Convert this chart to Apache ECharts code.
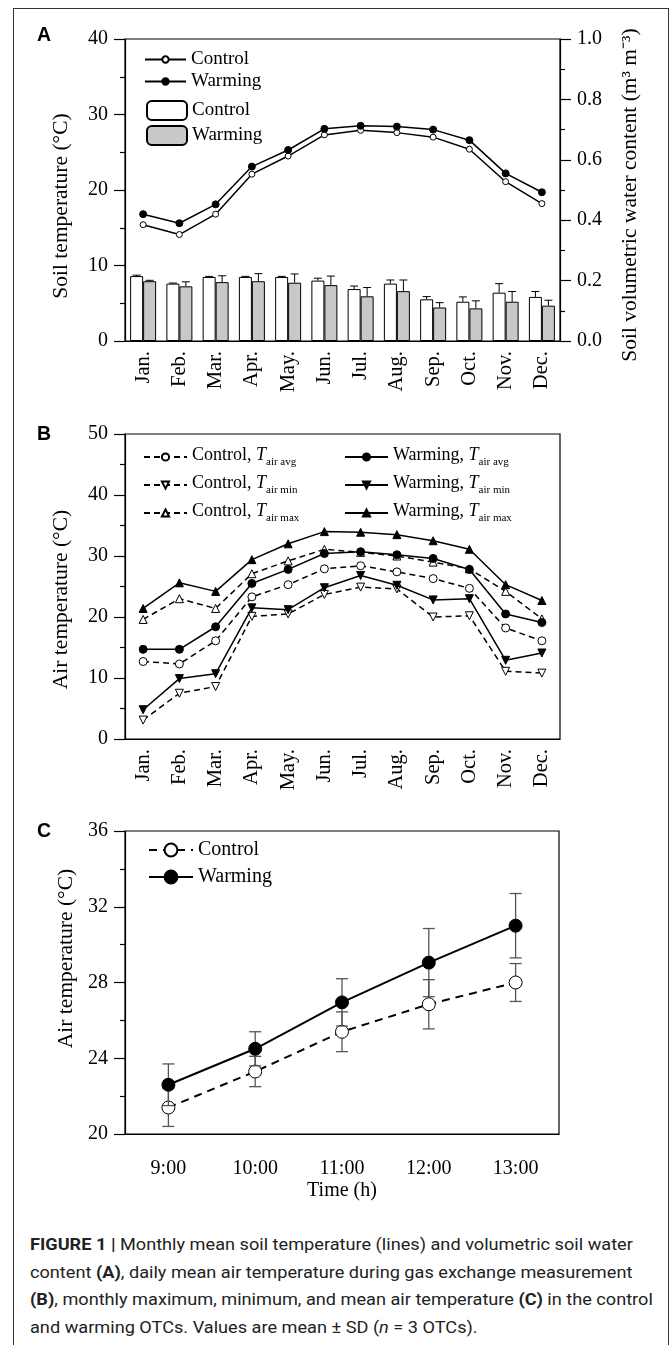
<!DOCTYPE html>
<html>
<head>
<meta charset="utf-8">
<script src="https://cdn.jsdelivr.net/npm/echarts@6/dist/echarts.min.js"></script>
<style>
  html, body { margin: 0; padding: 0; background: #fff; }
  #wrap { position: relative; width: 672px; height: 1345px; overflow: hidden; }
  #frame { position: absolute; left: 13px; top: 8px; width: 656px; height: 1400px; border: 1.5px solid #333; box-sizing: border-box; }
  #chart { position: absolute; left: 0; top: 0; width: 672px; height: 1215px; }
  #caption { position: absolute; left: 30px; top: 1231px; font-family: Roboto, "Liberation Sans", sans-serif; font-size: 16.5px; line-height: 27.5px; color: #222; white-space: nowrap; transform: scaleX(1.1); transform-origin: 0 0; }
</style>
</head>
<body>
<div id="wrap">
  <div id="frame"></div>
  <div id="chart"></div>
  <div id="caption">
    <b>FIGURE 1 |</b> Monthly mean soil temperature (lines) and volumetric soil water<br>
    content <b>(A)</b>, daily mean air temperature during gas exchange measurement<br>
    <b>(B)</b>, monthly maximum, minimum, and mean air temperature <b>(C)</b> in the control<br>
    and warming OTCs. Values are mean ± SD (<i>n</i> = 3 OTCs).
  </div>
</div>
<script>
const serif = "Liberation Serif";
const months = ["Jan.", "Feb.", "Mar.", "Apr.", "May.", "Jun.", "Jul.", "Aug.", "Sep.", "Oct.", "Nov.", "Dec."];

// panel A - soil temperature (°C)
const soilTempControl = [15.4, 14.1, 16.8, 22.1, 24.5, 27.3, 27.9, 27.6, 27.0, 25.4, 21.1, 18.2];
const soilTempWarming = [16.8, 15.6, 18.1, 23.1, 25.3, 28.1, 28.5, 28.4, 28.0, 26.6, 22.2, 19.7];
// panel A - soil volumetric water content (m3 m-3) and SD
const swcControl = [0.215, 0.19, 0.212, 0.212, 0.212, 0.20, 0.172, 0.19, 0.138, 0.13, 0.16, 0.146];
const swcControlSd = [0.003, 0.002, 0.002, 0.002, 0.002, 0.008, 0.01, 0.012, 0.009, 0.016, 0.03, 0.018];
const swcWarming = [0.198, 0.181, 0.195, 0.198, 0.193, 0.185, 0.148, 0.165, 0.111, 0.108, 0.13, 0.117];
const swcWarmingSd = [0.003, 0.015, 0.021, 0.025, 0.029, 0.03, 0.029, 0.037, 0.016, 0.025, 0.034, 0.018];

// panel B - monthly air temperature (°C)
const airAvgControl = [12.7, 12.3, 16.1, 23.3, 25.3, 27.9, 28.4, 27.4, 26.3, 24.7, 18.2, 16.1];
const airMinControl = [3.1, 7.5, 8.6, 20.1, 20.5, 23.7, 24.9, 24.6, 20.0, 20.2, 11.1, 10.8];
const airMaxControl = [19.6, 23.0, 21.4, 27.1, 29.2, 31.1, 30.6, 30.0, 29.0, 27.9, 24.2, 19.7];
const airAvgWarming = [14.7, 14.7, 18.4, 25.5, 27.8, 30.4, 30.7, 30.2, 29.6, 27.8, 20.5, 19.1];
const airMinWarming = [4.8, 9.9, 10.7, 21.5, 21.2, 24.8, 26.8, 25.2, 22.8, 23.0, 12.9, 14.1];
const airMaxWarming = [21.4, 25.6, 24.2, 29.4, 32.0, 34.0, 33.9, 33.5, 32.5, 31.1, 25.3, 22.7];

// panel C - air temperature during gas exchange (°C) and SD
const hours = ["9:00", "10:00", "11:00", "12:00", "13:00"];
const dayControl = [21.4, 23.3, 25.4, 26.85, 28.0];
const dayControlSd = [1.0, 0.8, 1.05, 1.3, 1.0];
const dayWarming = [22.6, 24.5, 26.95, 29.05, 31.0];
const dayWarmingSd = [1.1, 0.9, 1.25, 1.8, 1.7];

const chart = echarts.init(document.getElementById("chart"));

const black = "#000";
const txt = { fontFamily: serif, fontSize: 20, color: black };
const nameTxt = { fontFamily: serif, fontSize: 21.5, color: black };

// upper error bar for grouped bars
const barErr = (offset) => (params, api) => {
  const i = api.value(0), v = api.value(1), e = api.value(2);
  const p0 = api.coord([i, v]);
  const p1 = api.coord([i, v + e]);
  const x = p0[0] + offset;
  const st = { stroke: black, lineWidth: 1 };
  return {
    type: "group",
    children: [
      { type: "line", shape: { x1: x, y1: p0[1], x2: x, y2: p1[1] }, style: st },
      { type: "line", shape: { x1: x - 4, y1: p1[1], x2: x + 4, y2: p1[1] }, style: st },
    ],
  };
};
// symmetric error bar
const symErr = (params, api) => {
  const i = api.value(0), v = api.value(1), e = api.value(2);
  const lo = api.coord([i, v - e]);
  const hi = api.coord([i, v + e]);
  const st = { stroke: "#555", lineWidth: 1.3 };
  return {
    type: "group",
    children: [
      { type: "line", shape: { x1: lo[0], y1: lo[1], x2: hi[0], y2: hi[1] }, style: st },
      { type: "line", shape: { x1: lo[0] - 6, y1: lo[1], x2: lo[0] + 6, y2: lo[1] }, style: st },
      { type: "line", shape: { x1: hi[0] - 6, y1: hi[1], x2: hi[0] + 6, y2: hi[1] }, style: st },
    ],
  };
};
const withSd = (vals, sd) => vals.map((v, i) => [i, v, sd[i]]);

const xAx = (gridIndex, data) => ({
  gridIndex,
  type: "category",
  data,
  boundaryGap: true,
  axisLine: { lineStyle: { color: black, width: 1.2 } },
  axisTick: { alignWithLabel: true, length: 6, lineStyle: { color: black, width: 1.2 } },
  axisLabel: { ...txt, fontSize: 20.5, rotate: 90, margin: 10 },
  splitLine: { show: false },
});
const yAx = (gridIndex, min, max, interval, name, pad) => ({
  gridIndex,
  type: "value",
  min, max, interval,
  name,
  nameLocation: "middle",
  nameRotate: 90,
  nameGap: 53,
  nameTextStyle: { ...nameTxt, padding: pad },
  axisLine: { show: true, lineStyle: { color: black, width: 1.2 } },
  axisTick: { show: true, length: 11, lineStyle: { color: black, width: 1.2 } },
  minorTick: { show: true, splitNumber: 2, length: 5, lineStyle: { color: black, width: 1.2 } },
  axisLabel: { ...txt, margin: 17 },
  splitLine: { show: false },
});

const sub = {
  t: { fontFamily: serif, fontSize: 18, fontStyle: "italic", color: black, verticalAlign: "top" },
  a: { fontFamily: serif, fontSize: 18, color: black, verticalAlign: "top" },
  s: { fontFamily: serif, fontSize: 11, color: black, verticalAlign: "top", padding: [11, 0, 0, 0] },
};
const subLabel = (name) => {
  const [grp, stat] = name.split(" ");
  return "{a|" + grp + ", }{t|T}{s|air " + stat + "}";
};

const openSym = { color: "#fff", borderColor: black, borderWidth: 1 };
const fillSym = { color: black, borderColor: black, borderWidth: 1 };
const downTri = "path://M0,0L10,0L5,9Z";
const lineB = (name, data, symbol, dashed) => ({
  name,
  type: "line",
  xAxisIndex: 1,
  yAxisIndex: 2,
  data,
  symbol,
  symbolSize: 8,
  lineStyle: { color: black, width: 1.5, type: dashed ? [6, 4] : "solid" },
  itemStyle: dashed ? openSym : fillSym,
  z: dashed ? 2 : 3,
});

const option = {
  animation: false,
  grid: [
    { left: 125, top: 39, width: 435, height: 302, show: true, borderColor: black, borderWidth: 1.2 },
    { left: 125, top: 434, width: 435, height: 305, show: true, borderColor: black, borderWidth: 1.2 },
    { left: 125, top: 831, width: 434, height: 303, show: true, borderColor: black, borderWidth: 1.2 },
  ],
  xAxis: [
    xAx(0, months),
    xAx(1, months),
    {
      ...xAx(2, hours),
      axisTick: { alignWithLabel: true, length: 12, lineStyle: { color: black, width: 1.2 } },
      axisLabel: { ...txt, margin: 25 },
      name: "Time (h)",
      nameLocation: "middle",
      nameGap: 47,
      nameTextStyle: { ...txt },
    },
  ],
  yAxis: [
    yAx(0, 0, 40, 10, "Soil temperature (°C)", [0, 32, 0, 0]),
    {
      ...yAx(0, 0, 1, 0.2, "Soil volumetric water content (m³ m⁻³)", [0, 10, 0, 0]),
      position: "right",
      nameGap: 59,
      axisLabel: { ...txt, margin: 17, formatter: (v) => v.toFixed(1) },
    },
    yAx(1, 0, 50, 10, "Air temperature (°C)", [0, 26, 0, 0]),
    { ...yAx(2, 20, 36, 4, "Air temperature (°C)", [0, 0, 0, 48]), nameGap: 44 },
  ],
  legend: [
    {
      data: ["Control", "Warming"],
      orient: "vertical", left: 144, top: 50, padding: 0,
      itemWidth: 41, itemHeight: 8, itemGap: 3,
      textStyle: { fontFamily: serif, fontSize: 19, color: black },
    },
    {
      data: ["Control bar", "Warming bar"],
      formatter: (n) => n.replace(" bar", ""),
      orient: "vertical", left: 146, top: 100, padding: 0,
      itemWidth: 40, itemHeight: 19, itemGap: 4,
      textStyle: { fontFamily: serif, fontSize: 19, color: black },
    },
    {
      data: ["Control avg", "Control min", "Control max"],
      formatter: subLabel,
      orient: "vertical", left: 143, top: 446, padding: 0,
      itemWidth: 43, itemHeight: 9, itemGap: 6,
      textStyle: { fontFamily: serif, fontSize: 18, color: black, rich: sub },
    },
    {
      data: ["Warming avg", "Warming min", "Warming max"],
      formatter: subLabel,
      orient: "vertical", left: 344, top: 446, padding: 0,
      itemWidth: 43, itemHeight: 9, itemGap: 6,
      textStyle: { fontFamily: serif, fontSize: 18, color: black, rich: sub },
    },
    {
      data: ["Control C", "Warming C"],
      formatter: (n) => n.replace(" C", ""),
      orient: "vertical", left: 148, top: 840, padding: 0,
      itemWidth: 44, itemHeight: 16, itemGap: 7,
      textStyle: { fontFamily: serif, fontSize: 20, color: black },
    },
  ],
  graphic: [
    { type: "text", left: 37, top: 26, style: { text: "A", font: "bold 19.5px 'Liberation Sans'", fill: black } },
    { type: "text", left: 37, top: 425, style: { text: "B", font: "bold 19.5px 'Liberation Sans'", fill: black } },
    { type: "text", left: 37, top: 822, style: { text: "C", font: "bold 19.5px 'Liberation Sans'", fill: black } },
  ],
  series: [
    // panel A
    {
      name: "Control bar", type: "bar", xAxisIndex: 0, yAxisIndex: 1,
      data: swcControl, barWidth: 13, barGap: "0%",
      itemStyle: { color: "#fff", borderColor: black, borderWidth: 1 },
    },
    {
      name: "Warming bar", type: "bar", xAxisIndex: 0, yAxisIndex: 1,
      data: swcWarming, barWidth: 13, barGap: "0%",
      itemStyle: { color: "#c8c8c8", borderColor: black, borderWidth: 1 },
    },
    {
      type: "custom", xAxisIndex: 0, yAxisIndex: 1, renderItem: barErr(-6.5),
      data: withSd(swcControl, swcControlSd), encode: { x: 0, y: 1 }, z: 3,
    },
    {
      type: "custom", xAxisIndex: 0, yAxisIndex: 1, renderItem: barErr(6.5),
      data: withSd(swcWarming, swcWarmingSd), encode: { x: 0, y: 1 }, z: 3,
    },
    {
      name: "Control", type: "line", xAxisIndex: 0, yAxisIndex: 0,
      data: soilTempControl, symbol: "circle", symbolSize: 6,
      lineStyle: { color: black, width: 1.5 }, itemStyle: openSym, z: 4,
    },
    {
      name: "Warming", type: "line", xAxisIndex: 0, yAxisIndex: 0,
      data: soilTempWarming, symbol: "circle", symbolSize: 7,
      lineStyle: { color: black, width: 1.5 }, itemStyle: fillSym, z: 4,
    },
    // panel B
    lineB("Control avg", airAvgControl, "circle", true),
    lineB("Control min", airMinControl, downTri, true),
    lineB("Control max", airMaxControl, "triangle", true),
    lineB("Warming avg", airAvgWarming, "circle", false),
    lineB("Warming min", airMinWarming, downTri, false),
    lineB("Warming max", airMaxWarming, "triangle", false),
    // panel C
    {
      type: "custom", xAxisIndex: 2, yAxisIndex: 3, renderItem: symErr,
      data: withSd(dayControl, dayControlSd), encode: { x: 0, y: 1 }, z: 1,
    },
    {
      name: "Control C", type: "line", xAxisIndex: 2, yAxisIndex: 3,
      data: dayControl, symbol: "circle", symbolSize: 13,
      lineStyle: { color: black, width: 2, type: [8, 6] }, itemStyle: openSym, z: 2,
    },
    {
      type: "custom", xAxisIndex: 2, yAxisIndex: 3, renderItem: symErr,
      data: withSd(dayWarming, dayWarmingSd), encode: { x: 0, y: 1 }, z: 3,
    },
    {
      name: "Warming C", type: "line", xAxisIndex: 2, yAxisIndex: 3,
      data: dayWarming, symbol: "circle", symbolSize: 13,
      lineStyle: { color: black, width: 2 }, itemStyle: fillSym, z: 4,
    },
  ],
};

chart.setOption(option);
window.addEventListener("resize", () => {
  chart.resize();
});
</script>
</body>
</html>
